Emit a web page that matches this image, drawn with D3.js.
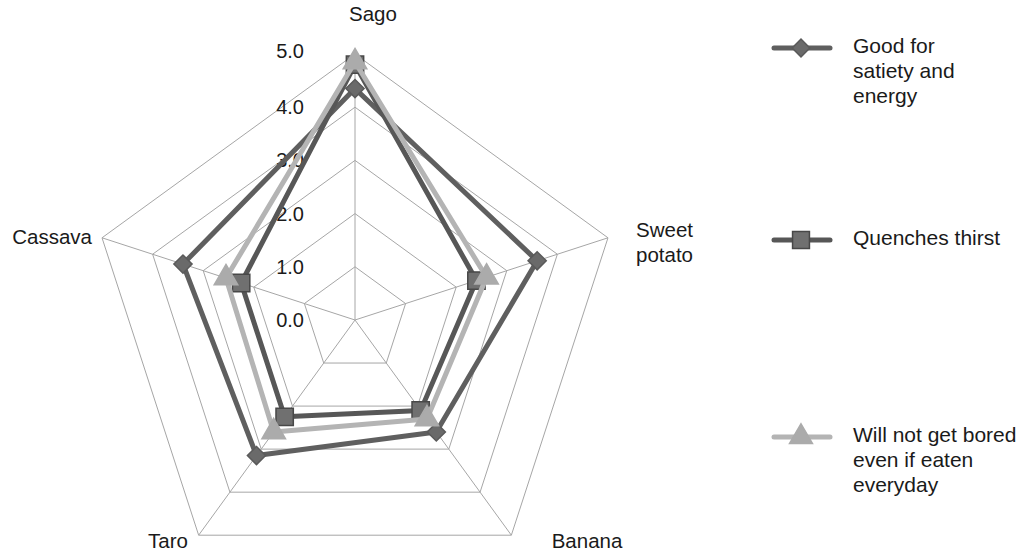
<!DOCTYPE html>
<html>
<head>
<meta charset="utf-8">
<script src="https://cdn.jsdelivr.net/npm/d3@7"></script>
<style>
  html, body { margin: 0; padding: 0; background: #fff; }
  svg { display: block; font-family: "Liberation Sans", Arial, sans-serif; }
</style>
</head>
<body>
<svg id="chart" width="1026" height="554"></svg>
<script>
// Crops rated on a 0–5 scale
const categories = ["Sago", "Sweet potato", "Banana", "Taro", "Cassava"];
const seriesNames = [
  "Good for satiety and energy",
  "Quenches thirst",
  "Will not get bored even if eaten everyday"
];
const satietyValues = [4.35, 3.6, 2.6, 3.15, 3.4];
const thirstValues  = [4.8, 2.4, 2.1, 2.25, 2.25];
const boredValues   = [4.85, 2.6, 2.3, 2.6, 2.55];
const tickValues = [0, 1, 2, 3, 4, 5];

const svg = d3.select("#chart");
const cx = 355, cy = 320, R = 266;

const r = d3.scaleLinear().domain([0, 5]).range([0, R]);
const angle = d3.scalePoint().domain(categories).range([0, 2 * Math.PI * 4 / 5]);

function pt(cat, v) {
  const a = angle(cat);
  return [cx + r(v) * Math.sin(a), cy - r(v) * Math.cos(a)];
}

const g = svg.append("g");

// grid rings
tickValues.filter(t => t > 0).forEach(t => {
  g.append("path")
    .attr("d", d3.line()(categories.map(c => pt(c, t))) + "Z")
    .attr("fill", "none")
    .attr("stroke", "#a6a6a6")
    .attr("stroke-width", 1);
});
// spokes
categories.forEach(c => {
  const [x, y] = pt(c, 5);
  g.append("line").attr("x1", cx).attr("y1", cy).attr("x2", x).attr("y2", y)
    .attr("stroke", "#a6a6a6").attr("stroke-width", 1);
});

// value labels
g.selectAll("text.tick").data(tickValues).join("text")
  .attr("class", "tick")
  .attr("x", 304)
  .attr("y", d => cy - r(d) - (d === 5 ? 3 : 0))
  .attr("dy", "0.35em")
  .attr("text-anchor", "end")
  .attr("font-size", 20)
  .attr("fill", "#1a1a1a")
  .text(d => d3.format(".1f")(d));

// category labels
const catLabelPos = {
  "Sago": [373, 14, "middle"],
  "Sweet potato": [636, 230, "start"],
  "Banana": [587, 541, "middle"],
  "Taro": [168, 541, "middle"],
  "Cassava": [92, 237, "end"]
};
categories.forEach(c => {
  const [x, y, anchor] = catLabelPos[c];
  const t = g.append("text").attr("x", x).attr("y", y)
    .attr("text-anchor", anchor).attr("font-size", 20.5).attr("fill", "#1a1a1a");
  const words = c === "Sweet potato" ? ["Sweet", "potato"] : [c];
  words.forEach((w, i) => {
    t.append("tspan").attr("x", x).attr("dy", i === 0 ? "0.35em" : "1.2em").text(w);
  });
});

const styles = [
  { line: "#5f5f5f", fill: "#6a6a6a", stroke: "#5a5a5a", shape: d3.symbolSquare, size: 165, rot: 45 },
  { line: "#575757", fill: "#707070", stroke: "#484848", shape: d3.symbolSquare, size: 300, rot: 0 },
  { line: "#b4b4b4", fill: "#ababab", stroke: "#ababab", shape: d3.symbolTriangle, size: 240, rot: 0 }
];
const seriesValues = [satietyValues, thirstValues, boredValues];

seriesValues.forEach((vals, i) => {
  const s = styles[i];
  const pts = categories.map((c, j) => pt(c, vals[j]));
  g.append("path")
    .attr("d", d3.line()(pts) + "Z")
    .attr("fill", "none")
    .attr("stroke", s.line)
    .attr("stroke-width", 5)
    .attr("stroke-linejoin", "round");
  pts.forEach(p => {
    g.append("path")
      .attr("d", d3.symbol().type(s.shape).size(s.size)())
      .attr("transform", `translate(${p[0]},${p[1]}) rotate(${s.rot})`)
      .attr("fill", s.fill)
      .attr("stroke", s.stroke)
      .attr("stroke-width", 1.5);
  });
});

// legend
const legendY = [48, 240, 437];
const legendLines = [
  ["Good for", "satiety and", "energy"],
  ["Quenches thirst"],
  ["Will not get bored", "even if eaten", "everyday"]
];
seriesNames.forEach((name, i) => {
  const s = styles[i];
  const y = legendY[i];
  const lg = svg.append("g").attr("class", "legend-item").attr("data-name", name);
  lg.append("line").attr("x1", 774).attr("x2", 830).attr("y1", y).attr("y2", y)
    .attr("stroke", s.line).attr("stroke-width", 5).attr("stroke-linecap", "round");
  lg.append("path")
    .attr("d", d3.symbol().type(s.shape).size(s.size * 0.95)())
    .attr("transform", `translate(801,${y}) rotate(${s.rot})`)
    .attr("fill", s.fill).attr("stroke", s.stroke).attr("stroke-width", 1.5);
  const t = lg.append("text").attr("x", 853).attr("y", y - 2)
    .attr("font-size", 21).attr("fill", "#1a1a1a");
  legendLines[i].forEach((w, k) => {
    t.append("tspan").attr("x", 853).attr("dy", k === 0 ? "0.35em" : "1.19em").text(w);
  });
});
</script>
</body>
</html>
